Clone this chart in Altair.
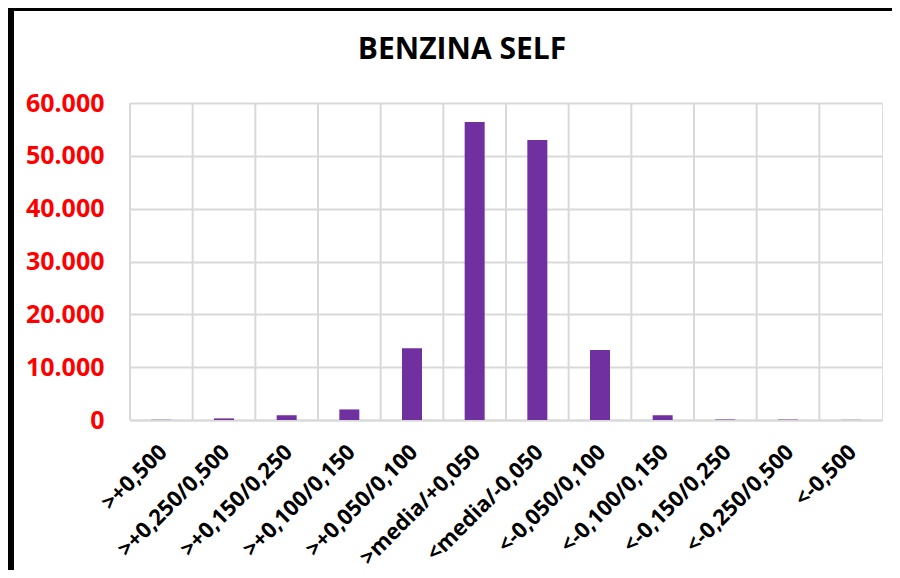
import altair as alt
import pandas as pd

categories = [">+0,500", ">+0,250/0,500", ">+0,150/0,250", ">+0,100/0,150",
              ">+0,050/0,100", ">media/+0,050", "<media/-0,050", "<-0,050/0,100",
              "<-0,100/0,150", "<-0,150/0,250", "<-0,250/0,500", "<-0,500"]
values = [30, 300, 900, 2000, 13600, 56400, 53000, 13250, 900, 100, 80, 30]
y_ticks = [0, 10000, 20000, 30000, 40000, 50000, 60000]
title_text = ["BENZINA SELF"]

df = pd.DataFrame({"cat": categories, "val": values})

W, H = 752, 317
FONT = "Open Sans"
GRID = "#d9d9d9"

xscale = alt.Scale(domain=categories, paddingInner=0, paddingOuter=0)

bars = alt.Chart(df).mark_bar(size=20, color="#7030A0").encode(
    x=alt.X("cat:N", sort=categories, scale=xscale, title=None,
            axis=alt.Axis(labelAngle=-45, labelFont=FONT, labelFontWeight="bold",
                          labelFontSize=22, labelColor="black", labelPadding=21,
                          labelOffset=-5,
                          ticks=False, domain=True, domainColor=GRID, domainWidth=2,
                          grid=False, labelAlign="right", labelBaseline="top",
                          labelLimit=300)),
    y=alt.Y("val:Q", scale=alt.Scale(domain=[0, 60000], nice=False), title=None,
            axis=alt.Axis(values=y_ticks, format=",.0f", labelExpr="replace(datum.label, ',', '.')",
                          labelFont=FONT, labelFontWeight="bold", labelFontSize=25,
                          labelColor="red", labelPadding=26, ticks=False, domain=False,
                          gridColor=GRID, gridWidth=2)),
)

vgrid = alt.Chart(df).mark_rule(color=GRID, strokeWidth=2).encode(
    x=alt.X("cat:N", sort=categories, scale=xscale, bandPosition=0),
    y=alt.value(0), y2=alt.value(H),
)

title = alt.Chart(pd.DataFrame({"t": title_text})).mark_text(
    font=FONT, fontSize=30, fontWeight="bold", color="black",
    align="center", baseline="alphabetic"
).encode(text="t:N", x=alt.value(332), y=alt.value(-44))

frame_left = alt.Chart(df).mark_rule(color="black", strokeWidth=6).encode(
    x=alt.value(-119), y=alt.value(-95), y2=alt.value(H + 160)
)
frame_top = alt.Chart(df).mark_rule(color="black", strokeWidth=3).encode(
    x=alt.value(-122), x2=alt.value(W + 20), y=alt.value(-94)
)

chart = alt.layer(bars, vgrid, title, frame_left, frame_top).properties(
    width=W, height=H,
    autosize=alt.AutoSizeParams(type="none"),
    padding={"left": 122, "top": 95, "right": 10, "bottom": 150},
).configure_view(stroke=GRID, strokeWidth=2).configure(background="white")

chart.save("out.html", embed_options={"renderer": "svg", "actions": False})
